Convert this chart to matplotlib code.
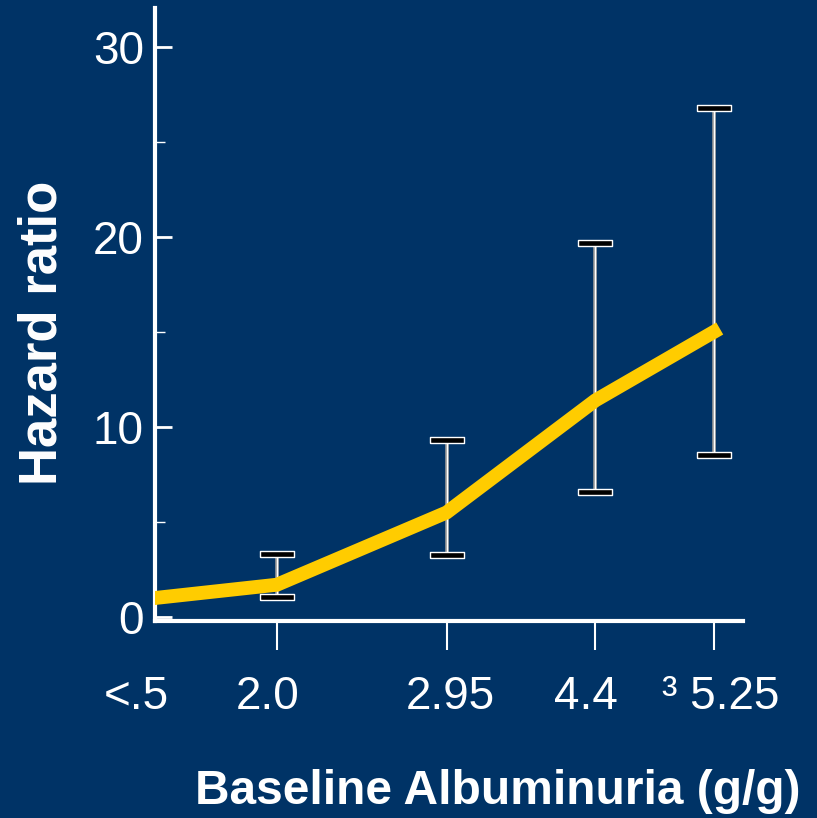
import matplotlib.pyplot as plt
import matplotlib.transforms as mtransforms

plt.rcParams['font.family'] = ['Liberation Sans', 'DejaVu Sans']

# categories on the x axis (position along axis, tick label)
x_pos = [0, 1.0, 2.39, 3.61, 4.58]
x_labels = ['<.5', '2.0', '2.95', '4.4', '\u00b3 5.25']
label_pos = [-0.15, 0.92, 2.42, 3.53, 4.64]

# hazard ratio and its confidence limits (first group is the reference)
hazard = [1.0, 1.7, 5.5, 11.4, 15.0]
ci_low = [None, 1.05, 3.26, 6.6, 8.5]
ci_high = [None, 3.3, 9.3, 19.7, 26.8]

bg = '#003366'
fig = plt.figure(figsize=(8.17, 8.18), dpi=100, facecolor=bg)
ax = fig.add_axes([155 / 817, 197 / 818, 588 / 817, 613 / 818])
ax.set_facecolor(bg)

# error bars: grey/white stem, black caps with white outline
cap = [(-1, -0.18), (1, -0.18), (1, 0.18), (-1, 0.18), (-1, -0.18)]
for x, lo, hi in zip(x_pos, ci_low, ci_high):
    if lo is None:
        continue
    ax.plot([x, x], [lo, hi], color='#999999', lw=2.6, zorder=2, solid_capstyle='butt')
    ax.plot([x, x], [lo, hi], color='white', lw=1.0, zorder=2.1, solid_capstyle='butt')
    ax.plot([x, x], [lo, hi], ls='none', marker=cap, markersize=25,
            markerfacecolor='black', markeredgecolor='white', mew=1.0, zorder=3)

ax.plot(x_pos, hazard, color='#FFCC00', lw=10, zorder=4, solid_joinstyle='miter')

ax.set_xlim(0, 4.82)
ax.set_ylim(-0.21, 32.05)

for side in ['top', 'right']:
    ax.spines[side].set_visible(False)
for side in ['left', 'bottom']:
    ax.spines[side].set_color('white')
    ax.spines[side].set_linewidth(3)

ax.set_yticks([0, 10, 20, 30])
ax.set_yticks([5, 15, 25], minor=True)
ax.tick_params(axis='y', which='major', direction='in', length=12, width=2,
               color='white', labelcolor='white', labelsize=33, pad=8)
ax.tick_params(axis='y', which='minor', direction='in', length=7, width=1, color='white')

ax.set_xticks(x_pos[1:])
ax.set_xticklabels([])
ax.tick_params(axis='x', which='major', direction='out', length=21, width=1.5, color='white')

trans = mtransforms.blended_transform_factory(ax.transData, ax.transAxes)
for x, lab in zip(label_pos, x_labels):
    ax.text(x, -0.124, lab, transform=trans, ha='center', va='center',
            color='white', fontsize=33, clip_on=False)

fig.text(43 / 817, 1 - 333 / 818, 'Hazard ratio', rotation=90, ha='center', va='center',
         color='white', fontsize=38, fontweight='bold')
fig.text(498 / 817, 1 - 792 / 818, 'Baseline Albuminuria (g/g)', ha='center', va='center',
         color='white', fontsize=34.5, fontweight='bold')

fig.savefig('out.png', dpi=100, facecolor=bg)
